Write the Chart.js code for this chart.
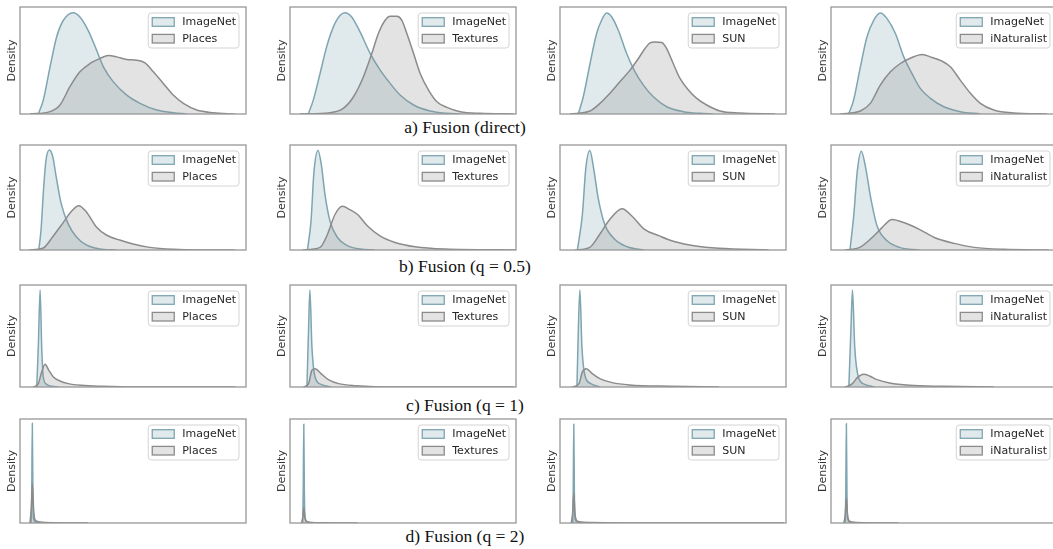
<!DOCTYPE html>
<html>
<head>
<meta charset="utf-8">
<script src="https://cdn.jsdelivr.net/npm/chart.js@4.4.1/dist/chart.umd.min.js"></script>
<style>
  html, body { margin: 0; padding: 0; background: #fff; width: 1053px; height: 549px; overflow: hidden; }
  #figure { position: relative; width: 1053px; height: 549px; overflow: hidden; }
  #figure canvas { position: absolute; }
  .caption {
    position: absolute; width: 300px; margin-left: -150px; text-align: center;
    font-family: "Liberation Serif", "Times New Roman", serif; font-size: 17.5px; color: #111;
    line-height: 20px;
  }
</style>
</head>
<body>
<div id="figure"></div>
<script>
const oodNames = ['Places', 'Textures', 'SUN', 'iNaturalist'];
const captions = ['a) Fusion (direct)', 'b) Fusion (q = 0.5)', 'c) Fusion (q = 1)', 'd) Fusion (q = 2)'];

// a) direct
const directInPlaces = [[8.1,0],[10.3,13],[13.3,44],[16.2,72],[19.2,87.6],[23.6,94.7],[26.5,90.7],[30.2,78],[33.9,59.6],[36.9,44],[41.3,30],[47.2,17.7],[53.1,10],[60.5,3.7],[67.8,1.2],[73.7,0]];
const directOodPlaces = [[4.4,0],[13.3,2.2],[17.7,8.4],[22.1,25.5],[26.5,39.4],[31,47.2],[35.4,51.9],[39.1,54.7],[42.8,53.4],[47.2,50.9],[51.6,50.3],[55.3,47.8],[59,39.4],[63.4,28.6],[67.8,17.7],[72.3,9.9],[78.2,3.7],[85.5,1.2],[95.1,0]];
const directInTextures = [[8.1,0],[10.3,13],[13.3,37.9],[16.2,62.7],[19.2,81.4],[22.2,92.2],[24.4,94.7],[27.3,90.7],[31,76.7],[35.5,56.5],[39.9,41],[44.3,28.6],[48.7,17.7],[54.7,8.4],[62,2.8],[69.4,0.6],[75.3,0]];
const directOodTextures = [[4.4,0],[17.7,1.2],[23.6,5.3],[28.1,16.1],[32.5,34.8],[36.2,56.5],[39.1,75.2],[42.1,87.6],[44.3,91.3],[47.3,91.3],[49.5,87.6],[51.7,75.2],[54.7,56.5],[57.6,37.9],[61.3,22.4],[65,11.5],[69.4,6.2],[75.3,2.2],[84.2,0.6],[99,0]];
const directInSun = [[8.1,0],[10.3,16.1],[13.3,47.2],[16.2,75.2],[18.4,87.6],[20.6,94.4],[22.9,90.7],[25.8,78.3],[29.5,56.5],[33.2,39.4],[36.9,27],[41.3,16.1],[47.2,6.8],[54.6,2.2],[61.9,0.6],[67.8,0]];
const directOodSun = [[4.4,0],[13.3,2.8],[17.7,9.9],[22.1,19.3],[26.5,30.1],[31,41],[34.7,51.9],[37.6,61.2],[39.8,66.5],[42,67.4],[45,66.8],[47.2,61.2],[50.1,47.2],[53.1,33.2],[56.8,22.4],[60.5,14.6],[64.9,8.4],[70.8,2.8],[79.6,0.9],[95.1,0]];
const directInInat = [[7.8,0],[10,13],[13,44],[15.9,72],[18.9,87.6],[21.8,94.4],[24.8,89.1],[28.5,75.2],[32.2,53.4],[35.8,37.9],[39.5,23.9],[44,14.6],[49.9,6.8],[57.2,2.2],[66.1,0]];
const directOodInat = [[4.1,0],[13,2.8],[17.4,9.9],[21.8,27],[26.3,39.4],[30.7,47.2],[35.8,52.8],[40.3,55.6],[44.7,52.8],[49.1,49.4],[52.8,44.1],[57.2,31.7],[61.7,19.3],[66.1,9.9],[72,3.7],[80.8,0.9],[95.6,0]];

// b) q = 0.5
const halfInPlaces = [[8.3,0],[9.3,19],[10.4,57.1],[11.5,85.7],[13,95.2],[14.5,88.9],[16,69.8],[18.2,44.4],[21.2,25.4],[24.9,12.7],[29.3,4.8],[35.2,1],[42.6,0]];
const halfOodPlaces = [[4.1,0],[10.1,1.6],[14.5,12.7],[18.9,25.4],[22.6,36.5],[26,42.2],[29.3,36.5],[33.7,22.2],[38.2,14.3],[44.1,9.5],[50,5.7],[57.4,2.5],[67.8,0.6],[79.6,0],[95.1,0]];
const halfInTextures = [[7.7,0],[9.3,27.5],[10.6,74.4],[12.4,94.7],[13.9,80.6],[15.5,52.5],[17.7,27.5],[21,11.9],[25.4,4.1],[31,0.9],[37.6,0]];
const halfOodTextures = [[5.5,0],[13.3,2.5],[16.6,15],[19.9,33.8],[23.2,41.6],[26.5,38.4],[29.9,33.8],[34.3,22.8],[39.8,13.4],[46.5,7.2],[55.3,3.1],[68.6,0.9],[99.6,0]];
const halfInSun = [[7.7,0],[9.9,33.8],[11.4,77.5],[13.2,94.7],[14.9,77.5],[16.9,49.4],[19.8,24.4],[24.2,10.3],[29.7,3.1],[37.4,0]];
const halfOodSun = [[6.6,0],[13.2,2.5],[17.6,15],[22,29.1],[27.5,39.4],[31.9,32.2],[37.4,19.7],[44,13.4],[50.5,8.1],[59.3,4.1],[70.3,1.6],[92.3,0]];
const halfInInat = [[8.4,0],[10.1,33.8],[11.6,74.4],[13.4,94.1],[15.4,77.5],[17.6,49.4],[20.4,22.8],[24.8,8.8],[30.3,2.5],[39.1,0]];
const halfOodInat = [[6.2,0],[12.7,2.5],[18.2,11.9],[22.6,21.3],[27,29.1],[32.5,25.9],[39.1,19.7],[45.7,11.9],[54.5,6.3],[63.3,2.5],[76.5,0.6],[96.3,0]];

// c) q = 1
const oneInPlaces = [[7.4,0],[8.1,39.3],[8.9,95.1],[9.6,39.3],[10.3,9.8],[11.8,2.6],[14,0.7],[17,0]];
const oneOodPlaces = [[5.9,0],[8.1,3.3],[9.6,14.8],[11.1,22.3],[12.6,17],[14.8,9.8],[17.7,5.9],[21.4,3.3],[27.3,1.6],[36.2,0.7],[51,0],[95.3,0]];
const oneInTextures = [[7.5,0],[8.2,55.7],[8.8,95.1],[9.7,39.3],[11.1,9.8],[13.7,2.6],[18.1,0]];
const oneOodTextures = [[6,0],[8.2,3.3],[9.7,16.4],[11.1,18],[13.7,13.1],[17,7.2],[21.5,3.3],[29.2,1.3],[46.9,0],[99,0]];
const oneInSun = [[7.5,0],[8.1,55.7],[8.8,95.1],[9.7,39.3],[11,11.5],[13.6,3.3],[17.6,0]];
const oneOodSun = [[5.5,0],[8.4,3.3],[9.9,14.8],[11.6,18],[14.3,13.1],[17.6,8.2],[23.1,4.3],[30.8,2],[48.4,0.7],[70.3,0]];
const oneInInat = [[7.9,0],[8.8,55.7],[9.5,95.1],[10.5,39.3],[12.1,9.8],[14.9,2.6],[19.3,0]];
const oneOodInat = [[6.2,0],[9.5,3.3],[11.6,9.2],[14.5,12.5],[17.1,10.8],[20.4,7.2],[25.9,3.9],[34.7,1.6],[50.1,0.7],[72.1,0]];

// d) q = 2
const twoInPlaces = [[4.9,0],[5.2,30],[5.45,96],[5.7,30],[6,4],[7,1],[9,0]];
const twoOodPlaces = [[4.4,0],[5,14],[5.5,38],[6,14],[6.6,3.2],[8.1,1.3],[14,0.3],[30,0]];
const twoInTextures = [[5.6,0],[5.85,30],[6.1,95],[6.35,30],[6.65,4],[7.6,1],[9.6,0]];
const twoOodTextures = [[5.1,0],[5.7,6],[6.1,14.4],[6.6,6],[7.2,1.8],[8.6,0.8],[14,0.2],[30,0]];
const twoInSun = [[5.6,0],[5.85,30],[6.1,95],[6.35,30],[6.65,4],[7.6,1],[9.6,0]];
const twoOodSun = [[5,0],[5.6,10],[6.1,28.8],[6.6,10],[7.2,3],[8.6,1.2],[14,0.4],[30,0.1],[99,0]];
const twoInInat = [[6.3,0],[6.55,30],[6.8,95.5],[7.05,30],[7.35,4],[8.3,1],[10.3,0]];
const twoOodInat = [[5.7,0],[6.3,8],[6.8,24],[7.3,8],[7.9,2.5],[9.3,1],[15,0.3],[30,0]];

const inRows = [
  [directInPlaces, directInTextures, directInSun, directInInat],
  [halfInPlaces, halfInTextures, halfInSun, halfInInat],
  [oneInPlaces, oneInTextures, oneInSun, oneInInat],
  [twoInPlaces, twoInTextures, twoInSun, twoInInat]
];
const oodRows = [
  [directOodPlaces, directOodTextures, directOodSun, directOodInat],
  [halfOodPlaces, halfOodTextures, halfOodSun, halfOodInat],
  [oneOodPlaces, oneOodTextures, oneOodSun, oneOodInat],
  [twoOodPlaces, twoOodTextures, twoOodSun, twoOodInat]
];

// layout of the plot frames in the page
const colX = [20, 290, 560, 831];
const rowY = [7, 145, 285, 419];
const rowH = [107, 105, 102, 104];
const frameW = 226;
const captionY = [117, 256, 395, 526];
const PAD_L = 18, PAD = 3;

const blueLine = '#7ea5b1';
const blueFill = 'rgba(126,165,177,0.24)';
const greyLine = '#8b8b8b';
const greyFill = 'rgba(139,139,139,0.24)';

function roundRect(ctx, x, y, w, h, r) {
    ctx.beginPath();
    ctx.moveTo(x + r, y);
    ctx.lineTo(x + w - r, y);
    ctx.quadraticCurveTo(x + w, y, x + w, y + r);
    ctx.lineTo(x + w, y + h - r);
    ctx.quadraticCurveTo(x + w, y + h, x + w - r, y + h);
    ctx.lineTo(x + r, y + h);
    ctx.quadraticCurveTo(x, y + h, x, y + h - r);
    ctx.lineTo(x, y + r);
    ctx.quadraticCurveTo(x, y, x + r, y);
    ctx.closePath();
}

// frame, "Density" label and the legend inside the top right corner
const panelDecor = {
    id: 'panelDecor',
    afterDatasetsDraw(chart) {
        const { ctx, chartArea: a } = chart;
        ctx.save();
        ctx.strokeStyle = '#979797';
        ctx.lineWidth = 1.3;
        ctx.strokeRect(a.left, a.top, a.right - a.left, a.bottom - a.top);

        ctx.fillStyle = '#333';
        ctx.font = '11px "DejaVu Sans"';
        ctx.textAlign = 'center';
        ctx.textBaseline = 'middle';
        ctx.translate(a.left - 8, (a.top + a.bottom) / 2);
        ctx.rotate(-Math.PI / 2);
        ctx.fillText('Density', 0, 0);
        ctx.restore();

        ctx.save();
        ctx.font = '11px "DejaVu Sans"';
        const ds = chart.data.datasets;
        const textW = Math.max(...ds.map(d => ctx.measureText(d.label).width));
        const w = 4 + 22 + 8 + textW + 3;
        const h = 35;
        const x = a.right - 7 - w;
        const y = a.top + 6;
        roundRect(ctx, x, y, w, h, 3);
        ctx.fillStyle = 'rgba(255,255,255,0.85)';
        ctx.fill();
        ctx.strokeStyle = '#d4d4d4';
        ctx.lineWidth = 1;
        ctx.stroke();
        ds.forEach((d, i) => {
            const cy = y + 9 + i * 16.7;
            ctx.fillStyle = '#fff';
            ctx.fillRect(x + 4, cy - 4.3, 22, 8.6);
            ctx.fillStyle = d.backgroundColor;
            ctx.fillRect(x + 4, cy - 4.3, 22, 8.6);
            ctx.strokeStyle = d.borderColor;
            ctx.lineWidth = 1.3;
            ctx.strokeRect(x + 4, cy - 4.3, 22, 8.6);
            ctx.fillStyle = '#262626';
            ctx.textAlign = 'left';
            ctx.textBaseline = 'middle';
            ctx.fillText(d.label, x + 4 + 22 + 8, cy + 0.5);
        });
        ctx.restore();
    }
};

const figure = document.getElementById('figure');

rowY.forEach((top, r) => {
    colX.forEach((left, c) => {
        const canvas = document.createElement('canvas');
        const w = frameW + PAD_L + PAD;
        const h = rowH[r] + 2 * PAD;
        canvas.width = w;
        canvas.height = h;
        canvas.style.left = (left - PAD_L) + 'px';
        canvas.style.top = (top - PAD) + 'px';
        canvas.style.width = w + 'px';
        canvas.style.height = h + 'px';
        figure.appendChild(canvas);

        new Chart(canvas.getContext('2d'), {
            type: 'line',
            data: {
                datasets: [{
                    label: 'ImageNet',
                    data: inRows[r][c],
                    borderColor: blueLine,
                    backgroundColor: blueFill,
                    fill: 'origin',
                    order: 2
                }, {
                    label: oodNames[c],
                    data: oodRows[r][c],
                    borderColor: greyLine,
                    backgroundColor: greyFill,
                    fill: 'origin',
                    order: 1
                }]
            },
            options: {
                responsive: false,
                animation: false,
                devicePixelRatio: 1,
                layout: { padding: { left: PAD_L, right: PAD, top: PAD, bottom: PAD } },
                elements: {
                    point: { radius: 0 },
                    line: { borderWidth: 1.5, cubicInterpolationMode: 'monotone' }
                },
                plugins: { legend: { display: false }, tooltip: { enabled: false } },
                scales: {
                    x: { type: 'linear', min: 0, max: 100, display: false },
                    y: { min: 0, max: 100, display: false }
                }
            },
            plugins: [panelDecor]
        });
    });

    const cap = document.createElement('div');
    cap.className = 'caption';
    cap.textContent = captions[r];
    cap.style.left = '465px';
    cap.style.top = captionY[r] + 'px';
    figure.appendChild(cap);
});
</script>
</body>
</html>
